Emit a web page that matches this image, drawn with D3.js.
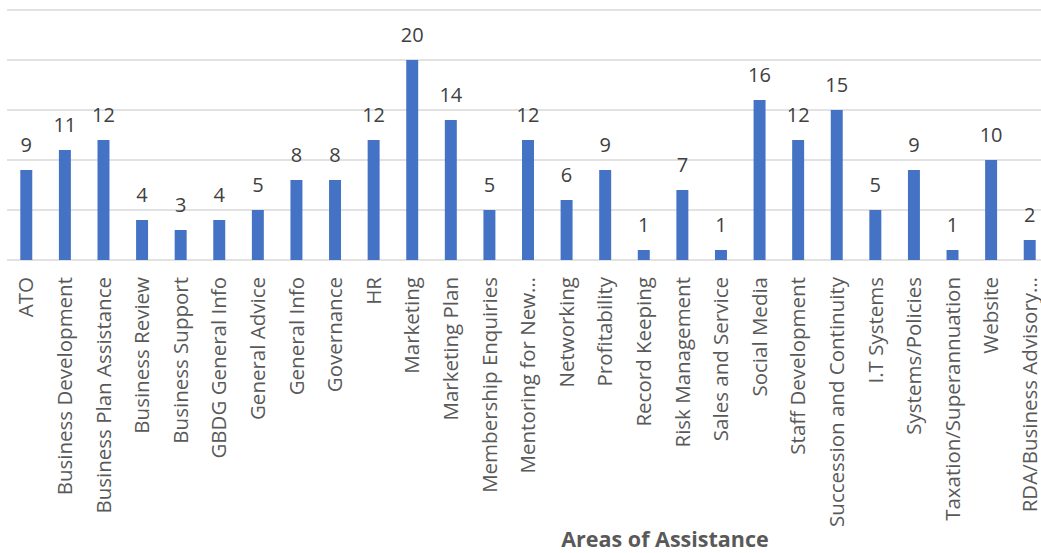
<!DOCTYPE html>
<html>
<head>
<meta charset="utf-8">
<script src="https://cdn.jsdelivr.net/npm/d3@7"></script>
<style>
body { margin: 0; background: #fff; }
text { font-family: "Open Sans", "Noto Sans", sans-serif; }
</style>
</head>
<body>
<div id="chart"></div>
<script>
// categories and counts
var categories = ["ATO", "Business Development", "Business Plan Assistance", "Business Review",
  "Business Support", "GBDG General Info", "General Advice", "General Info", "Governance", "HR",
  "Marketing", "Marketing Plan", "Membership Enquiries", "Mentoring for New\u2026", "Networking",
  "Profitability", "Record Keeping", "Risk Management", "Sales and Service", "Social Media",
  "Staff Development", "Succession and Continuity", "I.T Systems", "Systems/Policies",
  "Taxation/Superannuation", "Website", "RDA/Business Advisory\u2026"];
var counts = [9, 11, 12, 4, 3, 4, 5, 8, 8, 12, 20, 14, 5, 12, 6, 9, 1, 7, 1, 16, 12, 15, 5, 9, 1, 10, 2];
var yTicks = [0, 5, 10, 15, 20, 25];
var axisTitle = "Areas of Assistance";

var W = 1041, H = 553;
var margin = {left: 7, right: 1049, top: 10, bottom: 260};

var svg = d3.select("#chart").append("svg")
    .attr("width", W)
    .attr("height", H);

var x = d3.scaleBand()
    .domain(categories)
    .range([margin.left, margin.right])
    .paddingInner(0.69)
    .paddingOuter(0.345);

var y = d3.scaleLinear()
    .domain([0, 25])
    .range([margin.bottom, margin.top]);

// gridlines
svg.append("g").selectAll("line")
    .data(yTicks)
  .enter().append("line")
    .attr("x1", margin.left)
    .attr("x2", margin.right)
    .attr("y1", function(d) { return y(d); })
    .attr("y2", function(d) { return y(d); })
    .style("stroke", "#d9d9d9")
    .style("stroke-width", 1.5);

// bars
svg.append("g").selectAll("rect")
    .data(counts)
  .enter().append("rect")
    .attr("x", function(d, i) { return x(categories[i]); })
    .attr("width", x.bandwidth())
    .attr("y", function(d) { return y(d); })
    .attr("height", function(d) { return y(0) - y(d); })
    .style("fill", "#4472c4");

// value labels
svg.append("g").selectAll("text")
    .data(counts)
  .enter().append("text")
    .attr("x", function(d, i) { return x(categories[i]) + x.bandwidth() / 2; })
    .attr("y", function(d) { return y(d) - 18; })
    .attr("text-anchor", "middle")
    .style("font-size", "20px")
    .style("fill", "#404040")
    .text(function(d) { return d; });

// category labels, rotated
var xAxis = d3.axisBottom(x).tickSize(0).tickPadding(0);
var gx = svg.append("g")
    .attr("transform", "translate(0," + margin.bottom + ")")
    .call(xAxis);
gx.select(".domain").remove();
gx.selectAll(".tick text")
    .attr("transform", "rotate(-90)")
    .attr("x", -17)
    .attr("y", 0)
    .attr("dy", "0.35em")
    .style("text-anchor", "end")
    .style("font-size", "20.5px")
    .style("font-family", "'Open Sans', sans-serif")
    .style("fill", "#595959");

svg.append("text")
    .attr("x", 665)
    .attr("y", 547)
    .attr("text-anchor", "middle")
    .style("font-size", "21.5px")
    .style("font-weight", "bold")
    .style("fill", "#595959")
    .text(axisTitle);
</script>
</body>
</html>
